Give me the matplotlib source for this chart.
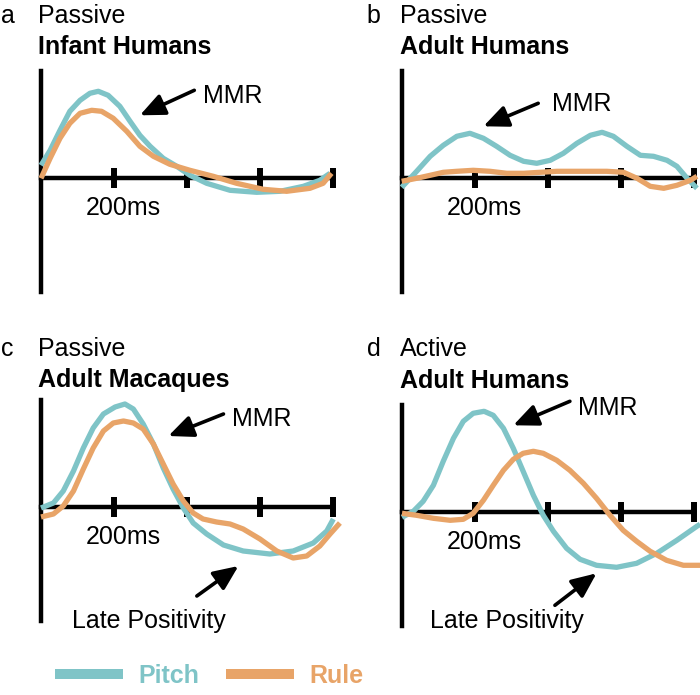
import matplotlib.pyplot as plt
from matplotlib.lines import Line2D

plt.rcParams['font.family'] = ['Liberation Sans', 'DejaVu Sans']
plt.rcParams['font.size'] = 18

PITCH_COLOR = '#7fc4c7'
RULE_COLOR = '#e8a468'

# ---- data (time in ms, amplitude in arbitrary units) ----
a_pitch_t = [0, 25, 52, 79, 107, 134, 157, 184, 216, 244, 271, 299, 335, 372, 408, 454, 518, 591, 655, 719, 764, 792]
a_pitch_v = [1.3, 2.8, 4.8, 6.7, 7.8, 8.5, 8.7, 8.3, 7.2, 5.7, 4.3, 3.2, 2.0, 1.2, 0.3, -0.5, -1.2, -1.4, -1.3, -0.8, -0.2, 0.5]
a_rule_t = [0, 25, 52, 79, 107, 139, 166, 198, 235, 271, 308, 353, 408, 472, 536, 609, 673, 737, 773, 796]
a_rule_v = [0.0, 2.0, 4.0, 5.5, 6.5, 6.8, 6.7, 6.0, 4.7, 3.2, 2.2, 1.4, 0.8, 0.2, -0.5, -1.1, -1.3, -1.0, -0.5, 0.5]

b_pitch_t = [0, 41, 78, 114, 151, 187, 224, 260, 297, 334, 370, 407, 443, 480, 517, 549, 580, 617, 654, 690, 727, 754, 782, 809]
b_pitch_v = [-0.9, 0.7, 2.2, 3.3, 4.2, 4.5, 4.0, 3.2, 2.3, 1.7, 1.5, 1.8, 2.5, 3.5, 4.3, 4.6, 4.2, 3.2, 2.3, 2.2, 1.8, 1.2, 0.0, -1.0]
b_rule_t = [0, 41, 78, 114, 151, 196, 242, 288, 334, 379, 425, 471, 517, 562, 608, 645, 681, 718, 754, 791, 809]
b_rule_v = [-0.3, 0.0, 0.3, 0.6, 0.7, 0.8, 0.7, 0.5, 0.5, 0.6, 0.7, 0.7, 0.7, 0.7, 0.6, 0.0, -0.8, -1.0, -0.7, -0.2, 0.2]

c_pitch_t = [0, 34, 61, 89, 116, 143, 171, 203, 230, 253, 280, 308, 335, 362, 390, 417, 454, 500, 554, 627, 691, 746, 783, 801]
c_pitch_v = [-0.1, 0.4, 1.6, 3.6, 5.9, 7.9, 9.3, 10.0, 10.3, 9.8, 8.3, 6.3, 3.9, 1.8, -0.1, -1.6, -2.7, -3.8, -4.4, -4.7, -4.4, -3.6, -2.4, -1.2]
c_rule_t = [0, 34, 61, 89, 116, 143, 171, 198, 226, 253, 280, 308, 335, 362, 390, 417, 444, 481, 518, 554, 600, 646, 691, 728, 764, 792, 819]
c_rule_v = [-1.0, -0.7, 0.1, 1.6, 3.8, 5.9, 7.6, 8.4, 8.6, 8.4, 7.8, 6.3, 4.3, 2.3, 0.6, -0.6, -1.2, -1.5, -1.7, -2.2, -3.2, -4.4, -5.1, -4.9, -3.9, -2.7, -1.6]

d_pitch_t = [0, 31, 58, 86, 113, 141, 168, 195, 225, 250, 278, 305, 332, 360, 387, 415, 451, 488, 533, 588, 643, 698, 753, 808, 817]
d_pitch_v = [-0.5, 0.1, 1.1, 2.7, 5.1, 7.4, 9.1, 9.9, 10.1, 9.7, 8.4, 6.4, 4.1, 1.7, -0.3, -1.9, -3.6, -4.7, -5.3, -5.5, -5.1, -4.1, -2.8, -1.4, -1.2]
d_rule_t = [0, 40, 86, 132, 168, 195, 223, 250, 278, 305, 332, 360, 387, 424, 460, 497, 533, 570, 606, 643, 680, 725, 771, 817]
d_rule_v = [-0.1, -0.3, -0.6, -0.8, -0.7, -0.1, 1.2, 2.7, 4.2, 5.3, 5.9, 6.1, 5.9, 5.2, 4.2, 2.9, 1.4, -0.3, -1.8, -2.9, -3.9, -4.8, -5.3, -5.3]

tick_ms = [200, 400, 600, 800]

W, H = 700, 695
fig = plt.figure(figsize=(7, 6.95), dpi=100)

YMIN, YMAX = -11.4, 10.7
XMAX = 850
PX_PER_MS = 1 / 2.74
PX_PER_UNIT = 10

ARROW = dict(arrowstyle='-|>,head_length=0.75,head_width=0.33',
             lw=2.6, color='k', mutation_scale=20, shrinkA=0, shrinkB=0)


def make_axes(left_px, base_px):
    top = base_px - YMAX * PX_PER_UNIT
    bottom = base_px - YMIN * PX_PER_UNIT
    rect = [left_px / W, 1 - bottom / H, XMAX * PX_PER_MS / W, (bottom - top) / H]
    ax = fig.add_axes(rect)
    ax.set_xlim(0, XMAX)
    ax.set_ylim(YMIN, YMAX)
    ax.patch.set_alpha(0)
    for s in ['top', 'right']:
        ax.spines[s].set_visible(False)
    ax.spines['left'].set_linewidth(3.2)
    ax.spines['bottom'].set_linewidth(3.2)
    ax.spines['bottom'].set_position(('data', 0))
    ax.spines['bottom'].set_bounds(0, 800)
    ax.set_xticks(tick_ms)
    ax.set_xticklabels([])
    ax.set_yticks([])
    ax.tick_params(axis='x', direction='inout', length=13.7, width=4.3, color='k')
    ax.annotate('200ms', xy=(200, 0), xytext=(7, -26.5), textcoords='offset points',
                ha='center', va='baseline')
    return ax


def draw(ax, pt, pv, rt, rv):
    ax.plot(pt, pv, color=PITCH_COLOR, lw=3.8, solid_joinstyle='round',
            solid_capstyle='butt', clip_on=False, zorder=3)
    ax.plot(rt, rv, color=RULE_COLOR, lw=3.8, solid_joinstyle='round',
            solid_capstyle='butt', clip_on=False, zorder=3)


def arrow(ax, text, head, tail, text_xy):
    ax.annotate('', xy=head, xytext=tail, arrowprops=ARROW)
    ax.text(text_xy[0], text_xy[1], text, ha='left', va='baseline')


def title(x_px, y_px, letter, line1, line2, letter_x):
    fig.text(letter_x / W, 1 - y_px / H, letter, ha='left', va='baseline')
    fig.text(x_px / W, 1 - y_px / H, line1, ha='left', va='baseline')
    fig.text(x_px / W, 1 - (y_px + 31.5) / H, line2, ha='left', va='baseline',
             fontweight='bold')


# panel a
ax_a = make_axes(41, 178.3)
draw(ax_a, a_pitch_t, a_pitch_v, a_rule_t, a_rule_v)
arrow(ax_a, 'MMR', (271, 6.3), (420, 8.8), (444, 7.5))
title(38, 22.7, 'a', 'Passive', 'Infant Humans', 1)

# panel b
ax_b = make_axes(401.7, 178.3)
draw(ax_b, b_pitch_t, b_pitch_v, b_rule_t, b_rule_v)
arrow(ax_b, 'MMR', (224, 5.2), (374, 7.5), (411, 6.7))
title(400, 22.7, 'b', 'Passive', 'Adult Humans', 366)

# panel c
ax_c = make_axes(41, 507)
draw(ax_c, c_pitch_t, c_pitch_v, c_rule_t, c_rule_v)
arrow(ax_c, 'MMR', (349, 7.1), (500, 9.3), (522, 8.1))
arrow(ax_c, 'Late Positivity', (541, -5.9), (427, -8.9), (84, -12.1))
title(38, 356, 'c', 'Passive', 'Adult Macaques', 1)

# panel d
ax_d = make_axes(402, 512.3)
draw(ax_d, d_pitch_t, d_pitch_v, d_rule_t, d_rule_v)
arrow(ax_d, 'MMR', (305, 8.7), (460, 11.1), (483, 9.7))
arrow(ax_d, 'Late Positivity', (533, -6.1), (419, -9.3), (77, -11.6))
title(400, 356, 'd', 'Active', 'Adult Humans', 367)

# legend
handles = [Line2D([], [], color=PITCH_COLOR, lw=7.2, solid_capstyle='butt'),
           Line2D([], [], color=RULE_COLOR, lw=7.2, solid_capstyle='butt')]
leg = fig.legend(handles, ['Pitch', 'Rule'], loc='center left',
                 bbox_to_anchor=(55 / W, 1 - 676 / H), ncol=2, frameon=False,
                 handlelength=2.72, handletextpad=0.6, columnspacing=1.1,
                 borderpad=0, borderaxespad=0,
                 prop={'weight': 'bold', 'size': 18})
for txt, col in zip(leg.get_texts(), [PITCH_COLOR, RULE_COLOR]):
    txt.set_color(col)

fig.savefig('out.png', dpi=100)
